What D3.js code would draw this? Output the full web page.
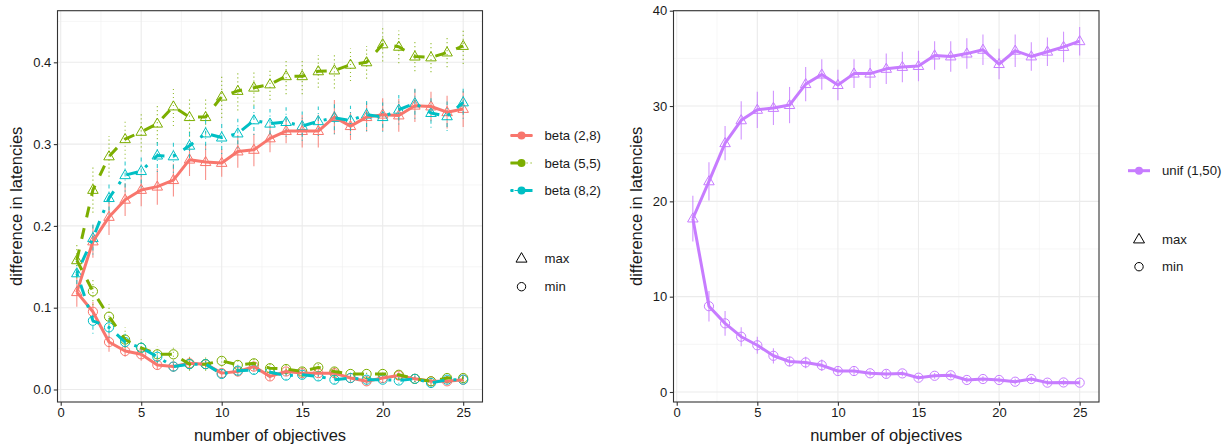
<!DOCTYPE html>
<html><head><meta charset="utf-8">
<script src="https://cdn.jsdelivr.net/npm/d3@7"></script>
<style>
body{margin:0;background:#fff}
svg{display:block;font-family:"Liberation Sans",Arial,Helvetica,sans-serif}
</style>
</head><body>
<svg id="chart" width="1231" height="445"></svg>
<script>
// ---------- data ----------
const objectives = [1,2,3,4,5,6,7,8,9,10,11,12,13,14,15,16,17,18,19,20,21,22,23,24,25];
const xTicks = [0,5,10,15,20,25];
const leftYTicks = [0,0.1,0.2,0.3,0.4];
const rightYTicks = [0,10,20,30,40];
const betaNames = ["beta (2,8)","beta (5,5)","beta (8,2)"];
const unifNames = ["unif (1,50)"];
const shapeNames = ["max","min"];

const beta28Max    = [0.119,0.181,0.211,0.232,0.244,0.248,0.256,0.281,0.278,0.277,0.291,0.293,0.307,0.316,0.316,0.316,0.333,0.322,0.333,0.336,0.335,0.347,0.346,0.339,0.343];
const beta28MaxErr = [0.018,0.020,0.022,0.020,0.020,0.022,0.020,0.020,0.022,0.017,0.020,0.020,0.017,0.015,0.020,0.020,0.021,0.017,0.018,0.020,0.020,0.020,0.018,0.020,0.022];
const beta28Min    = [0.119,0.095,0.058,0.047,0.043,0.030,0.028,0.032,0.031,0.020,0.022,0.028,0.016,0.022,0.020,0.020,0.020,0.014,0.010,0.014,0.017,0.013,0.010,0.010,0.012];
const beta28MinErr = [0,0.012,0.012,0.007,0.008,0.006,0.006,0.008,0.006,0.005,0.006,0.006,0.005,0.005,0.005,0.005,0.006,0.005,0.005,0.005,0.005,0.004,0.004,0.004,0.004];

const beta55Max    = [0.158,0.244,0.285,0.306,0.315,0.325,0.346,0.333,0.333,0.358,0.365,0.369,0.373,0.383,0.383,0.389,0.390,0.397,0.400,0.422,0.419,0.407,0.406,0.412,0.420];
const beta55MaxErr = [0.022,0.028,0.025,0.024,0.024,0.024,0.024,0.024,0.024,0.026,0.024,0.022,0.019,0.022,0.022,0.020,0.022,0.020,0.020,0.021,0.020,0.018,0.018,0.018,0.022];
const beta55Min    = [0.158,0.120,0.089,0.061,0.051,0.043,0.043,0.031,0.031,0.035,0.030,0.032,0.026,0.025,0.022,0.027,0.022,0.019,0.019,0.019,0.018,0.013,0.010,0.014,0.014];
const beta55MinErr = [0,0.017,0.015,0.015,0.010,0.010,0.008,0.008,0.008,0.007,0.006,0.006,0.006,0.006,0.006,0.007,0.006,0.005,0.005,0.005,0.005,0.004,0.004,0.004,0.004];

const beta82Max    = [0.142,0.185,0.234,0.262,0.267,0.286,0.285,0.298,0.313,0.308,0.313,0.329,0.325,0.327,0.322,0.328,0.332,0.329,0.336,0.333,0.342,0.350,0.338,0.334,0.351];
const beta82MaxErr = [0.018,0.020,0.020,0.020,0.020,0.020,0.020,0.020,0.020,0.020,0.018,0.018,0.018,0.018,0.018,0.018,0.020,0.018,0.020,0.018,0.018,0.019,0.018,0.018,0.020];
const beta82Min    = [0.142,0.084,0.076,0.058,0.051,0.040,0.028,0.031,0.031,0.019,0.023,0.024,0.021,0.017,0.018,0.016,0.012,0.014,0.012,0.012,0.011,0.013,0.008,0.012,0.012];
const beta82MinErr = [0,0.016,0.012,0.010,0.008,0.008,0.006,0.006,0.006,0.005,0.005,0.005,0.005,0.005,0.005,0.005,0.005,0.004,0.004,0.004,0.004,0.004,0.004,0.004,0.004];

const unifMax      = [18.2,22.1,26.1,28.5,29.6,29.8,30.1,32.3,33.3,32.2,33.4,33.4,33.9,34.1,34.2,35.3,35.2,35.5,35.9,34.4,35.8,35.2,35.7,36.2,36.8];
const unifMaxErr   = [2.4,2.0,1.8,2.0,1.9,1.8,1.9,1.8,1.6,1.6,1.5,1.5,1.6,1.6,1.6,1.5,1.6,1.6,1.6,1.6,1.7,1.5,1.5,1.6,1.5];
const unifMin      = [18.2,9.0,7.2,5.8,4.9,3.8,3.2,3.1,2.8,2.2,2.2,1.96,1.9,1.95,1.5,1.7,1.75,1.26,1.36,1.26,1.08,1.36,0.98,1.0,0.98];
const unifMinErr   = [0,1.6,1.3,1.0,0.9,0.8,0.5,0.6,0.6,0.4,0.4,0.3,0.4,0.3,0.3,0.3,0.3,0.3,0.3,0.3,0.3,0.3,0.3,0.3,0.3];

// ---------- styles ----------
const styles = {
  "beta (2,8)": {color:"#F8766D", dash:null, errDash:null},
  "beta (5,5)": {color:"#7CAE00", dash:"11,11", errDash:"1.2,2.8"},
  "beta (8,2)": {color:"#00BFC4", dash:"3,9,12,9", errDash:"1,3,4,3"},
  "unif (1,50)": {color:"#C77CFF", dash:null, errDash:null}
};

const svg = d3.select("#chart");
const textColor = "#1a1a1a";

function makeSeries(name, max, maxErr, min, minErr){
  return {name, max: objectives.map((o,i)=>({x:o, v:max[i], e:maxErr[i]})),
                min: objectives.map((o,i)=>({x:o, v:min[i], e:minErr[i]}))};
}

const leftSeries = [
  makeSeries(betaNames[0], beta28Max, beta28MaxErr, beta28Min, beta28MinErr),
  makeSeries(betaNames[1], beta55Max, beta55MaxErr, beta55Min, beta55MinErr),
  makeSeries(betaNames[2], beta82Max, beta82MaxErr, beta82Min, beta82MinErr)
];
const rightSeries = [
  makeSeries(unifNames[0], unifMax, unifMaxErr, unifMin, unifMinErr)
];

function triPath(cx, cy, s){
  const h = s*0.866;
  return `M${cx},${cy - h*0.62}L${cx + s/2},${cy + h*0.38}L${cx - s/2},${cy + h*0.38}Z`;
}

function drawPanel(cfg){
  const x = d3.scaleLinear().domain(cfg.xDom).range([cfg.x0, cfg.x1]);
  const y = d3.scaleLinear().domain(cfg.yDom).range([cfg.y1, cfg.y0]);
  const g = svg.append("g");

  // minor grid
  g.selectAll(".xminor").data(cfg.xMinor).join("line")
    .attr("x1", d=>x(d)).attr("x2", d=>x(d)).attr("y1", cfg.y0).attr("y2", cfg.y1)
    .attr("stroke", "#F0F0F0").attr("stroke-width", 0.6);
  g.selectAll(".yminor").data(cfg.yMinor).join("line")
    .attr("y1", d=>y(d)).attr("y2", d=>y(d)).attr("x1", cfg.x0).attr("x2", cfg.x1)
    .attr("stroke", "#F0F0F0").attr("stroke-width", 0.6);
  // major grid
  g.selectAll(".xmajor").data(xTicks).join("line")
    .attr("x1", d=>x(d)).attr("x2", d=>x(d)).attr("y1", cfg.y0).attr("y2", cfg.y1)
    .attr("stroke", "#EBEBEB").attr("stroke-width", 1.1);
  g.selectAll(".ymajor").data(cfg.yTicks).join("line")
    .attr("y1", d=>y(d)).attr("y2", d=>y(d)).attr("x1", cfg.x0).attr("x2", cfg.x1)
    .attr("stroke", "#EBEBEB").attr("stroke-width", 1.1);

  const line = d3.line().x(d=>x(d.x)).y(d=>y(d.v));

  cfg.series.forEach(s=>{
    const st = styles[s.name];
    ["max","min"].forEach(k=>{
      const pts = s[k].filter((d,i)=> k==="max" || i>0);
      // error bars
      g.append("g").selectAll("line").data(pts).join("line")
        .attr("x1", d=>x(d.x)).attr("x2", d=>x(d.x))
        .attr("y1", d=>y(d.v - d.e)).attr("y2", d=>y(d.v + d.e))
        .attr("stroke", st.color).attr("stroke-width", 1.1).attr("opacity", 0.8)
        .attr("stroke-dasharray", st.errDash);
      // points
      if(k==="max"){
        g.append("g").selectAll("path").data(pts).join("path")
          .attr("d", d=>triPath(x(d.x), y(d.v), 10.5))
          .attr("fill","none").attr("stroke", st.color).attr("stroke-width", 1);
      } else {
        g.append("g").selectAll("circle").data(pts).join("circle")
          .attr("cx", d=>x(d.x)).attr("cy", d=>y(d.v)).attr("r", 4.6)
          .attr("fill","none").attr("stroke", st.color).attr("stroke-width", 1);
      }
    });
  });
  cfg.series.forEach(s=>{
    const st = styles[s.name];
    ["max","min"].forEach(k=>{
      g.append("path").datum(s[k]).attr("d", line)
        .attr("fill","none").attr("stroke", st.color).attr("stroke-width", 3)
        .attr("stroke-linejoin","round")
        .attr("stroke-dasharray", st.dash);
    });
  });

  // border
  g.append("rect").attr("x", cfg.x0).attr("y", cfg.y0)
    .attr("width", cfg.x1-cfg.x0).attr("height", cfg.y1-cfg.y0)
    .attr("fill","none").attr("stroke","#333333").attr("stroke-width",1.1);

  // axes
  const xa = g.append("g").attr("transform", `translate(0,${cfg.y1})`)
    .call(d3.axisBottom(x).tickValues(xTicks).tickSizeOuter(0).tickSize(3.7).tickPadding(2.5).tickFormat(d3.format("d")));
  const ya = g.append("g").attr("transform", `translate(${cfg.x0},0)`)
    .call(d3.axisLeft(y).tickValues(cfg.yTicks).tickSizeOuter(0).tickSize(3.7).tickPadding(2.5).tickFormat(cfg.fmt));
  [xa, ya].forEach(a=>{
    a.select(".domain").remove();
    a.selectAll(".tick line").attr("stroke","#333333").attr("stroke-width",1.1);
    a.selectAll(".tick text").attr("fill", textColor).attr("font-size", 13)
      .attr("font-family", '"Liberation Sans",Arial,sans-serif');
  });

  // titles
  g.append("text").attr("x", (cfg.x0+cfg.x1)/2).attr("y", 441)
    .attr("text-anchor","middle").attr("font-size",16.5).attr("fill",textColor)
    .text("number of objectives");
  g.append("text").attr("transform", `translate(${cfg.yTitleX},${(cfg.y0+cfg.y1)/2}) rotate(-90)`)
    .attr("text-anchor","middle").attr("font-size",16.5).attr("fill",textColor)
    .text("difference in latencies");

  // legend: series
  const lg = svg.append("g");
  cfg.series.forEach((s,i)=>{
    const st = styles[s.name];
    const cy = cfg.legY[i];
    lg.append("line").attr("x1", cfg.legX).attr("x2", cfg.legX+22).attr("y1", cy).attr("y2", cy)
      .attr("stroke", st.color).attr("stroke-width", 1.1).attr("stroke-dasharray", st.errDash);
    lg.append("line").attr("x1", cfg.legX).attr("x2", cfg.legX+22).attr("y1", cy).attr("y2", cy)
      .attr("stroke", st.color).attr("stroke-width", 3).attr("stroke-dasharray", st.dash);
    lg.append("circle").attr("cx", cfg.legX+11).attr("cy", cy).attr("r", 4).attr("fill", st.color);
    lg.append("text").attr("x", cfg.legX+34).attr("y", cy).attr("dy","0.36em")
      .attr("font-size",13.2).attr("fill",textColor).text(s.name);
  });
  // legend: shapes
  shapeNames.forEach((nm,i)=>{
    const cy = cfg.shapeY[i];
    const cx = cfg.legX+11;
    if(nm==="max"){
      lg.append("path").attr("d", triPath(cx, cy, 11)).attr("fill","none").attr("stroke","#000").attr("stroke-width",1);
    } else {
      lg.append("circle").attr("cx", cx).attr("cy", cy).attr("r", 4.2).attr("fill","none").attr("stroke","#000").attr("stroke-width",1);
    }
    lg.append("text").attr("x", cfg.legX+34).attr("y", cy).attr("dy","0.36em")
      .attr("font-size",13.2).attr("fill",textColor).text(nm);
  });
}

drawPanel({
  x0:57.5, x1:482.5, y0:10.7, y1:402,
  xDom:[-0.2,26.2], yDom:[-0.0153,0.4631],
  yTicks:leftYTicks, yMinor:[0.05,0.15,0.25,0.35,0.45], xMinor:[2.5,7.5,12.5,17.5,22.5],
  fmt:d3.format(".1f"), series:leftSeries, yTitleX:22,
  legX:510.5, legY:[135.5,163,190.5], shapeY:[258.5,286.7]
});
drawPanel({
  x0:673.5, x1:1099, y0:10.7, y1:402,
  xDom:[-0.2,26.2], yDom:[-1.05,40.0],
  yTicks:rightYTicks, yMinor:[5,15,25,35], xMinor:[2.5,7.5,12.5,17.5,22.5],
  fmt:d3.format("d"), series:rightSeries, yTitleX:642,
  legX:1128, legY:[170.7], shapeY:[239.3,266.7]
});
</script>
</body></html>
